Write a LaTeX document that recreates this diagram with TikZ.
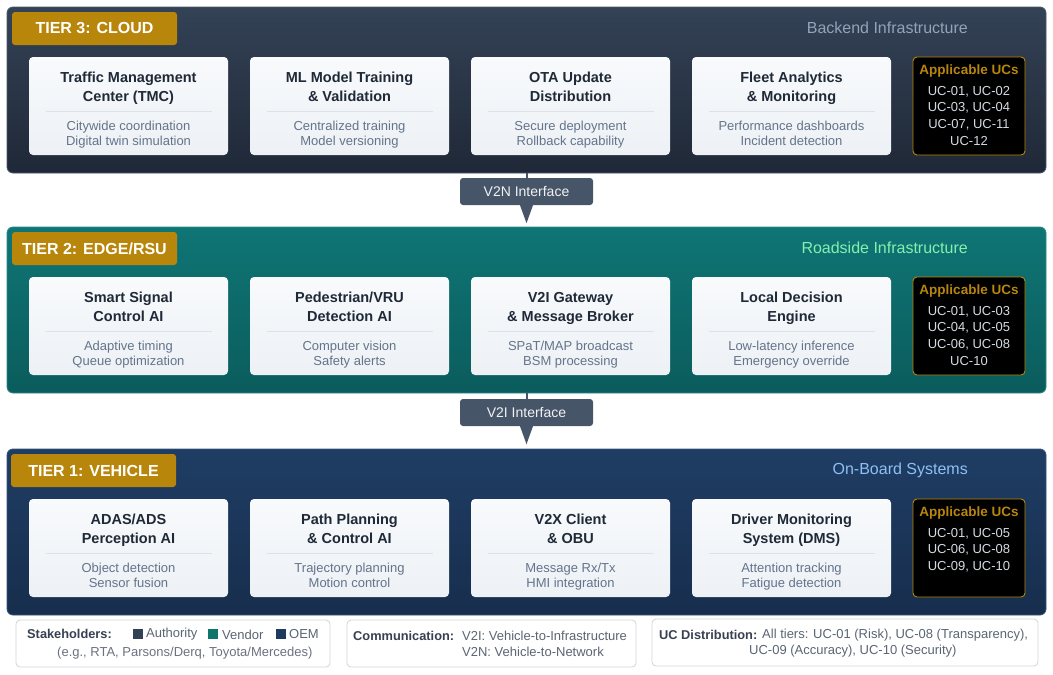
\documentclass[tikz,border=0pt]{standalone}
\usepackage{fontspec}
\setmainfont{Liberation Sans}
\usepackage{tikz}
\definecolor{cloudtop}{HTML}{344256}
\definecolor{cloudbot}{HTML}{1F2837}
\definecolor{cloudrim}{HTML}{4A586C}
\definecolor{cloudsub}{HTML}{94A3B8}
\definecolor{edgetop}{HTML}{0F7575}
\definecolor{edgebot}{HTML}{0B5C5C}
\definecolor{edgerim}{HTML}{2A8C8C}
\definecolor{edgesub}{HTML}{86EFAC}
\definecolor{vehtop}{HTML}{1F3D64}
\definecolor{vehbot}{HTML}{172E4D}
\definecolor{vehrim}{HTML}{34547E}
\definecolor{vehsub}{HTML}{8EC0F5}
\definecolor{tiergold}{HTML}{B8860B}
\definecolor{cardhi}{HTML}{F8FAFC}
\definecolor{cardlo}{HTML}{EDF1F5}
\definecolor{cardtxt}{HTML}{1F2937}
\definecolor{carddim}{HTML}{64748B}
\definecolor{cardsep}{HTML}{DCE2E9}
\definecolor{uctxt}{HTML}{D5DBE3}
\definecolor{ifacebg}{HTML}{475569}
\definecolor{legline}{HTML}{D1D5DB}
\definecolor{legbold}{HTML}{374151}
\definecolor{legtxt}{HTML}{5B6573}
\definecolor{legdim}{HTML}{6B7280}
\definecolor{authcol}{HTML}{334155}
\definecolor{vendcol}{HTML}{0F766E}
\definecolor{oemcol}{HTML}{1E3A5F}

\begin{document}
\begin{tikzpicture}[x=1pt,y=-1pt,line join=round,
  band/.style={rounded corners=6pt,line width=0.8pt,minimum width=1039pt,
    minimum height=166pt,inner sep=0pt},
  tierlabel/.style={fill=tiergold,rounded corners=3pt,minimum width=165pt,
    minimum height=33pt,inner sep=0pt,text=white,
    font=\fontsize{16}{19}\selectfont\bfseries},
  tiersub/.style={anchor=east,inner sep=0pt,font=\fontsize{16}{19}\selectfont},
  card/.style={rounded corners=4pt,top color=cardhi,bottom color=cardlo,
    minimum width=199pt,minimum height=98pt,inner sep=0pt},
  %% struts keep every two-line block the same height
  cardtitle/.style={align=center,inner sep=0pt,text=cardtxt,
    font=\fontsize{14.5}{19}\selectfont\bfseries\strut},
  carddesc/.style={align=center,inner sep=0pt,text=carddim,
    font=\fontsize{13}{14.5}\selectfont\strut},
  cardrule/.style={draw=cardsep,line width=0.8pt},
  ucbox/.style={fill=black,draw=tiergold,line width=0.9pt,rounded corners=4pt,
    minimum width=112pt,minimum height=98pt,inner sep=0pt},
  uchead/.style={inner sep=0pt,text=tiergold,
    font=\fontsize{13.5}{16}\selectfont\bfseries},
  uclist/.style={anchor=north,align=center,inner sep=0pt,text=uctxt,
    font=\fontsize{13}{16.7}\selectfont},
  iface/.style={fill=ifacebg,rounded corners=3pt,minimum width=133pt,
    minimum height=27pt,inner sep=0pt,text=white!92!ifacebg,
    font=\fontsize{14}{17}\selectfont},
  ifaceline/.style={draw=ifacebg,line width=2pt},
  legbox/.style={draw=legline,fill=white,rounded corners=4pt,line width=0.8pt},
  legkey/.style={anchor=west,inner sep=0pt,text=legbold,
    font=\fontsize{12.8}{15}\selectfont\bfseries},
  legitem/.style={anchor=west,inner sep=0pt,text=legtxt,
    font=\fontsize{13}{15}\selectfont}]

\useasboundingbox (0,0) rectangle (1053,675);

%% ---------------- tier 3: cloud ----------------
\begin{scope}[shift={(0,7)}]
  \node[band,top color=cloudtop,bottom color=cloudbot,draw=cloudrim] (cloud) at (526.5,83) {};
  \node[tierlabel] (cloudtag) at (94.5,21.5) {TIER 3: CLOUD};
  \node[tiersub,text=cloudsub] (cloudname) at (968,21) {Backend Infrastructure};
  %% components
  \node[card] (tmc) at (128.5,99) {};
  \node[cardtitle] (tmctitle) at (128.5,83) {Traffic Management\\\strut Center (TMC)};
  \draw[cardrule] (45.5,104.5) -- (211.5,104.5);
  \node[carddesc] (tmcdesc) at (128.5,128.5) {Citywide coordination\\\strut Digital twin simulation};
  \node[card] (mltrain) at (349.5,99) {};
  \node[cardtitle] (mltraintitle) at (349.5,83) {ML Model Training\\\strut\& Validation};
  \draw[cardrule] (266.5,104.5) -- (432.5,104.5);
  \node[carddesc] (mltraindesc) at (349.5,128.5) {Centralized training\\\strut Model versioning};
  \node[card] (ota) at (570.5,99) {};
  \node[cardtitle] (otatitle) at (570.5,83) {OTA Update\\\strut Distribution};
  \draw[cardrule] (487.5,104.5) -- (653.5,104.5);
  \node[carddesc] (otadesc) at (570.5,128.5) {Secure deployment\\\strut Rollback capability};
  \node[card] (fleet) at (791.5,99) {};
  \node[cardtitle] (fleettitle) at (791.5,83) {Fleet Analytics\\\strut\& Monitoring};
  \draw[cardrule] (708.5,104.5) -- (874.5,104.5);
  \node[carddesc] (fleetdesc) at (791.5,128.5) {Performance dashboards\\\strut Incident detection};
  %% use cases
  \node[ucbox] (clouduc) at (969,99) {};
  \node[uchead] (cloudhead) at (969,64) {Applicable UCs};
  \node[uclist] (cloudlist) at (969,79) {UC-01, UC-02\\UC-03, UC-04\\UC-07, UC-11\\UC-12};
\end{scope}

%% ---------------- tier 2: edge / RSU ----------------
\begin{scope}[shift={(0,227)}]
  \node[band,top color=edgetop,bottom color=edgebot,draw=edgerim] (edge) at (526.5,83) {};
  \node[tierlabel] (edgetag) at (94.5,21.5) {TIER 2: EDGE/RSU};
  \node[tiersub,text=edgesub] (edgename) at (968,21) {Roadside Infrastructure};
  \node[card] (signal) at (128.5,99) {};
  \node[cardtitle] (signaltitle) at (128.5,83) {Smart Signal\\\strut Control AI};
  \draw[cardrule] (45.5,104.5) -- (211.5,104.5);
  \node[carddesc] (signaldesc) at (128.5,128.5) {Adaptive timing\\\strut Queue optimization};
  \node[card] (vru) at (349.5,99) {};
  \node[cardtitle] (vrutitle) at (349.5,83) {Pedestrian/VRU\\\strut Detection AI};
  \draw[cardrule] (266.5,104.5) -- (432.5,104.5);
  \node[carddesc] (vrudesc) at (349.5,128.5) {Computer vision\\\strut Safety alerts};
  \node[card] (gateway) at (570.5,99) {};
  \node[cardtitle] (gatewaytitle) at (570.5,83) {V2I Gateway\\\strut\& Message Broker};
  \draw[cardrule] (487.5,104.5) -- (653.5,104.5);
  \node[carddesc] (gatewaydesc) at (570.5,128.5) {SPaT/MAP broadcast\\\strut BSM processing};
  \node[card] (decision) at (791.5,99) {};
  \node[cardtitle] (decisiontitle) at (791.5,83) {Local Decision\\\strut Engine};
  \draw[cardrule] (708.5,104.5) -- (874.5,104.5);
  \node[carddesc] (decisiondesc) at (791.5,128.5) {Low-latency inference\\\strut Emergency override};
  \node[ucbox] (edgeuc) at (969,99) {};
  \node[uchead] (edgehead) at (969,64) {Applicable UCs};
  \node[uclist] (edgelist) at (969,79) {UC-01, UC-03\\UC-04, UC-05\\UC-06, UC-08\\UC-10};
\end{scope}

%% ---------------- tier 1: vehicle ----------------
\begin{scope}[shift={(0,449)}]
  \node[band,top color=vehtop,bottom color=vehbot,draw=vehrim] (vehicle) at (526.5,83) {};
  \node[tierlabel] (vehtag) at (93.5,21.5) {TIER 1: VEHICLE};
  \node[tiersub,text=vehsub] (vehname) at (968,21) {On-Board Systems};
  \node[card] (adas) at (128.5,99) {};
  \node[cardtitle] (adastitle) at (128.5,83) {ADAS/ADS\\\strut Perception AI};
  \draw[cardrule] (45.5,104.5) -- (211.5,104.5);
  \node[carddesc] (adasdesc) at (128.5,128.5) {Object detection\\\strut Sensor fusion};
  \node[card] (path) at (349.5,99) {};
  \node[cardtitle] (pathtitle) at (349.5,83) {Path Planning\\\strut\& Control AI};
  \draw[cardrule] (266.5,104.5) -- (432.5,104.5);
  \node[carddesc] (pathdesc) at (349.5,128.5) {Trajectory planning\\\strut Motion control};
  \node[card] (obu) at (570.5,99) {};
  \node[cardtitle] (obutitle) at (570.5,83) {V2X Client\\\strut\& OBU};
  \draw[cardrule] (487.5,104.5) -- (653.5,104.5);
  \node[carddesc] (obudesc) at (570.5,128.5) {Message Rx/Tx\\\strut HMI integration};
  \node[card] (dms) at (791.5,99) {};
  \node[cardtitle] (dmstitle) at (791.5,83) {Driver Monitoring\\\strut System (DMS)};
  \draw[cardrule] (708.5,104.5) -- (874.5,104.5);
  \node[carddesc] (dmsdesc) at (791.5,128.5) {Attention tracking\\\strut Fatigue detection};
  \node[ucbox] (vehuc) at (969,99) {};
  \node[uchead] (vehhead) at (969,64) {Applicable UCs};
  \node[uclist] (vehlist) at (969,79) {UC-01, UC-05\\UC-06, UC-08\\UC-09, UC-10};
\end{scope}

%% ---------------- interfaces between tiers ----------------
\node[iface] (v2n) at (526.5,191.5) {V2N Interface};
\draw[ifaceline] (cloud.south -| v2n.north) -- (v2n.north);
\fill[ifacebg] ([xshift=-6.5pt]v2n.south) -- ([xshift=6.5pt]v2n.south)
  -- ([yshift=-18pt]v2n.south) -- cycle;
\node[iface] (v2i) at (526.5,412.5) {V2I Interface};
\draw[ifaceline] (edge.south -| v2i.north) -- (v2i.north);
\fill[ifacebg] ([xshift=-6.5pt]v2i.south) -- ([xshift=6.5pt]v2i.south)
  -- ([yshift=-18pt]v2i.south) -- cycle;

%% ---------------- legend ----------------
\draw[legbox] (16,620) rectangle (330,667);
\node[legkey] (stake) at (27,634) {Stakeholders:};
\fill[authcol] (133,629) rectangle (143,639);
\node[legitem] (auth) at (146,634.5) {Authority};
\fill[vendcol] (208,629) rectangle (218,639);
\node[legitem] (vend) at (222,634.5) {Vendor};
\fill[oemcol] (276,629) rectangle (286,639);
\node[legitem] (oem) at (289,634.5) {OEM};
\node[legitem,text=legdim] (stakeeg) at (57,653) {(e.g., RTA, Parsons/Derq, Toyota/Mercedes)};

\draw[legbox] (347,620) rectangle (636,667);
\node[legkey] (comm) at (353,636) {Communication:};
\node[legitem] (commv2i) at (462,636) {V2I: Vehicle-to-Infrastructure};
\node[legitem] (commv2n) at (462,652) {V2N: Vehicle-to-Network};

\draw[legbox] (652,619) rectangle (1038,666);
\node[legkey] (ucdist) at (659,635) {UC Distribution:};
\node[legitem] (ucall) at (762,635) {All tiers: UC-01 (Risk), UC-08 (Transparency),};
\node[legitem] (ucrest) at (749,651) {UC-09 (Accuracy), UC-10 (Security)};

\end{tikzpicture}
\end{document}
